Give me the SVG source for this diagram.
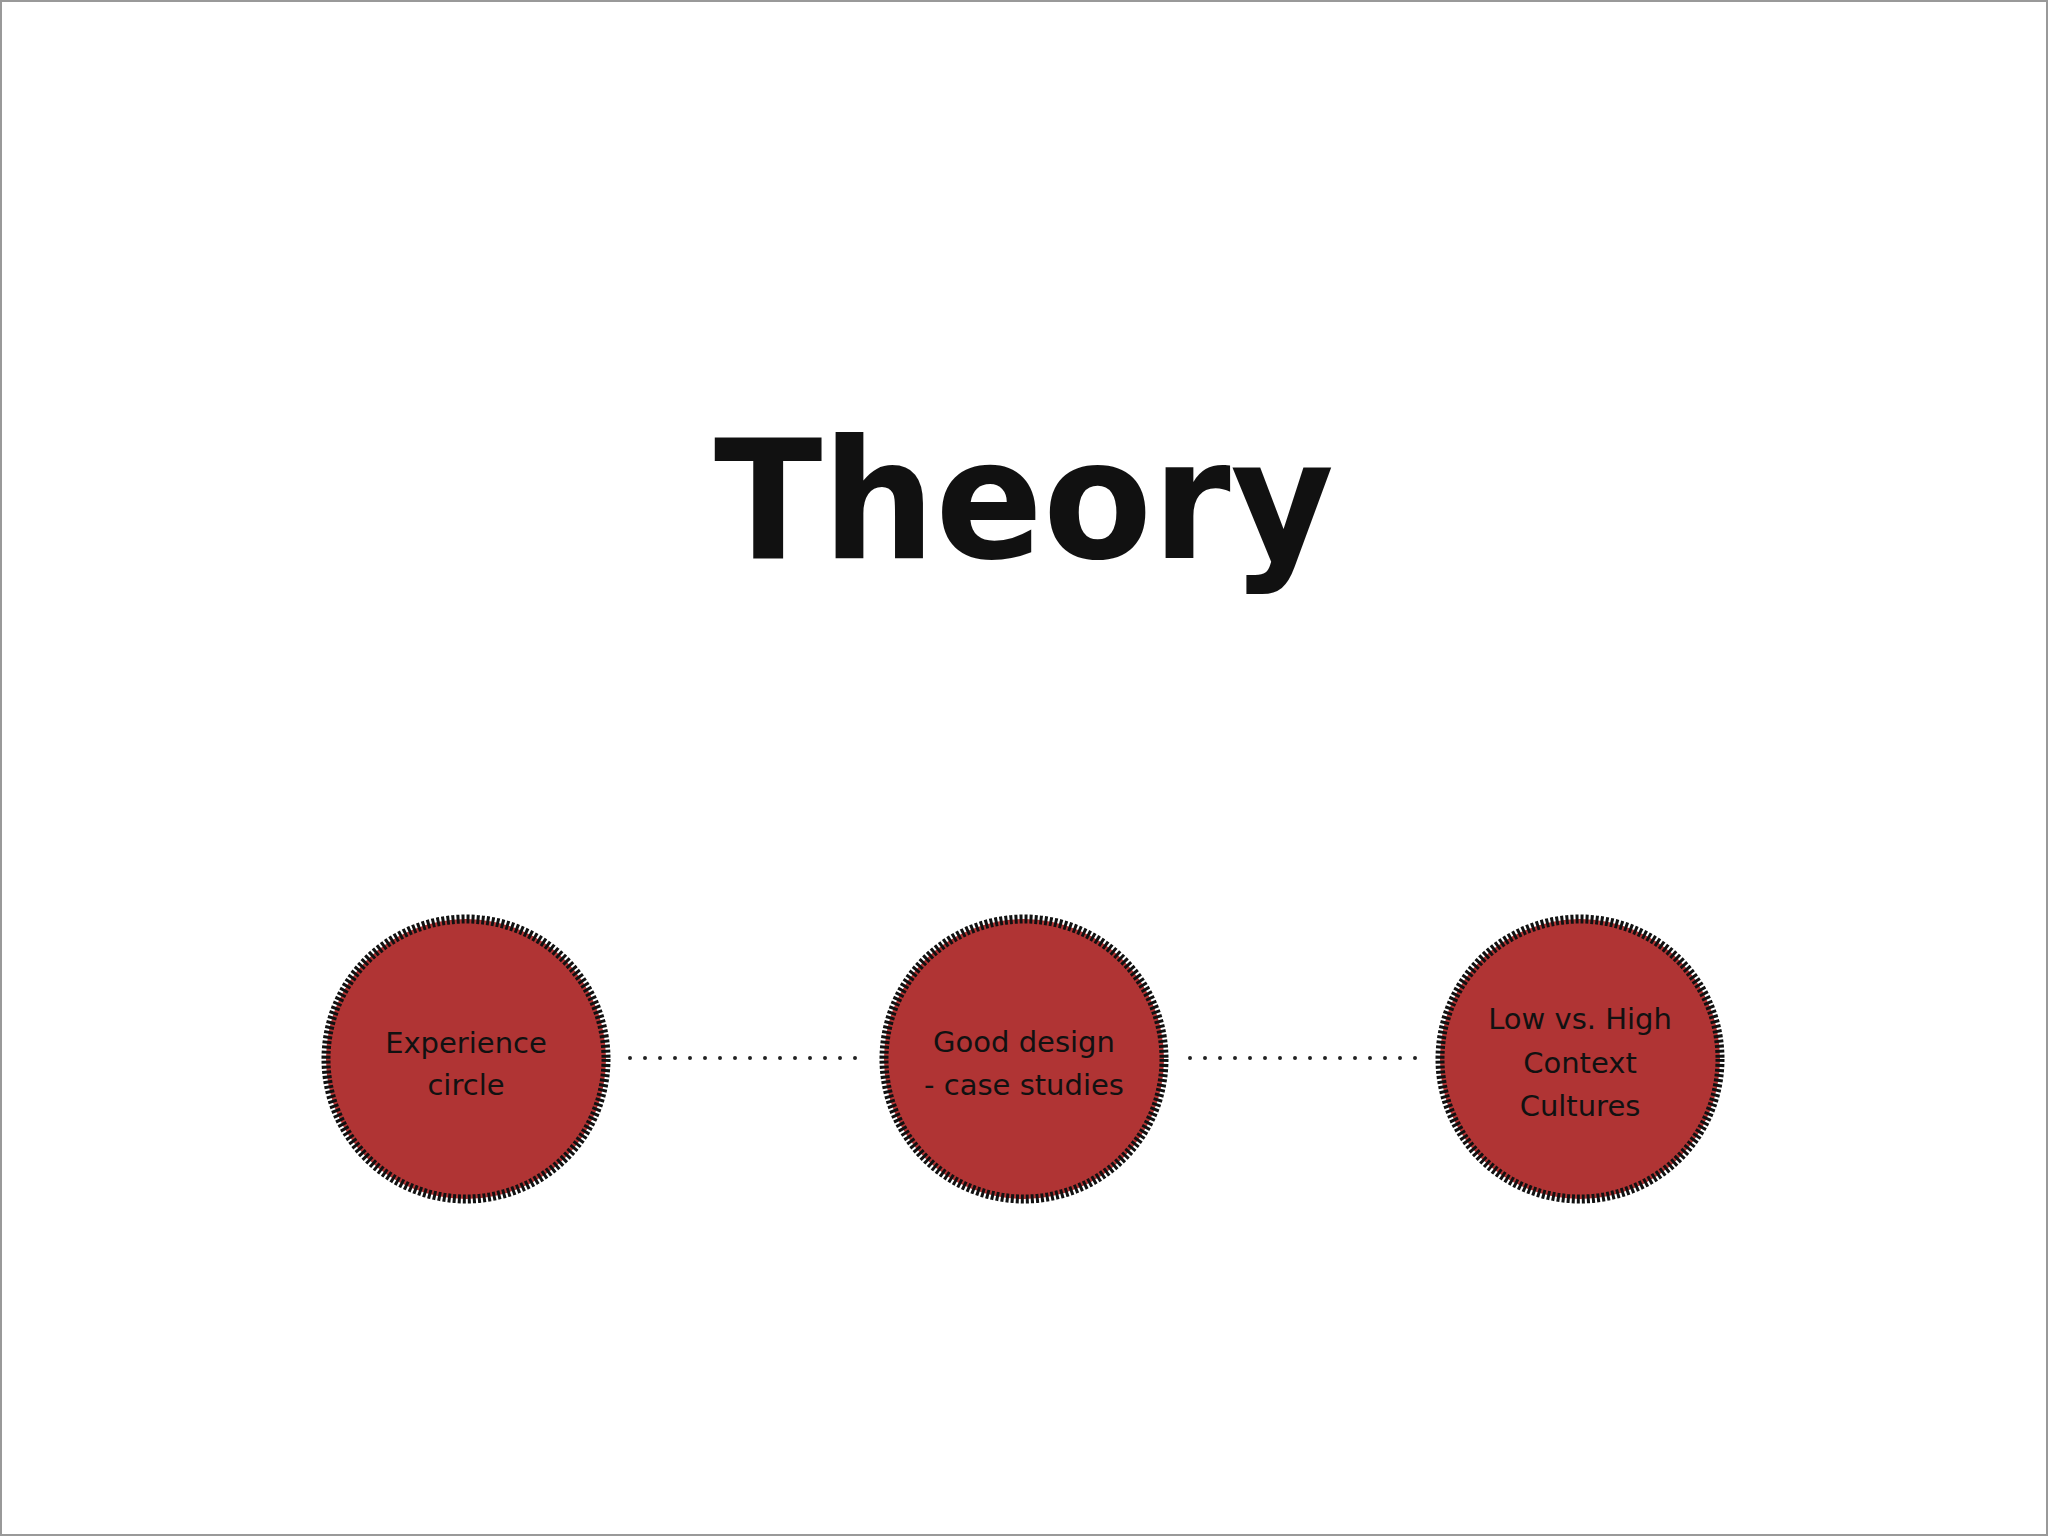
<svg xmlns="http://www.w3.org/2000/svg" width="2048" height="1536" viewBox="0 0 2048 1536">
<style>
.n{fill:#b03434;stroke:#111;stroke-width:9;stroke-dasharray:3 2}
.t{font-family:"Comic Sans MS","DejaVu Sans",sans-serif;font-size:29px;fill:#111;text-anchor:middle}
.c{stroke:#222;stroke-width:4;stroke-dasharray:0 15;stroke-linecap:round}
</style>
<rect x="0" y="0" width="2048" height="1536" fill="#fff"/>
<rect x="1" y="1" width="2046" height="1534" fill="none" stroke="#999" stroke-width="2"/>
<text x="1024" y="558" font-family="DejaVu Sans, sans-serif" font-size="165" font-weight="bold" text-anchor="middle" fill="#111" textLength="620" lengthAdjust="spacingAndGlyphs">Theory</text>
<g id="connectors">
<line class="c" x1="630" y1="1058" x2="870" y2="1058"/>
<line class="c" x1="1190" y1="1058" x2="1430" y2="1058"/>
</g>
<g id="n1"><circle class="n" cx="466" cy="1059" r="140"/><text class="t" x="466" y="1053">Experience</text><text class="t" x="466" y="1095">circle</text></g>
<g id="n2"><circle class="n" cx="1024" cy="1059" r="140"/><text class="t" x="1024" y="1052">Good design</text><text class="t" x="1024" y="1095">- case studies</text></g>
<g id="n3"><circle class="n" cx="1580" cy="1059" r="140"/><text class="t" x="1580" y="1029">Low vs. High</text><text class="t" x="1580" y="1073">Context</text><text class="t" x="1580" y="1116">Cultures</text></g>
</svg>
